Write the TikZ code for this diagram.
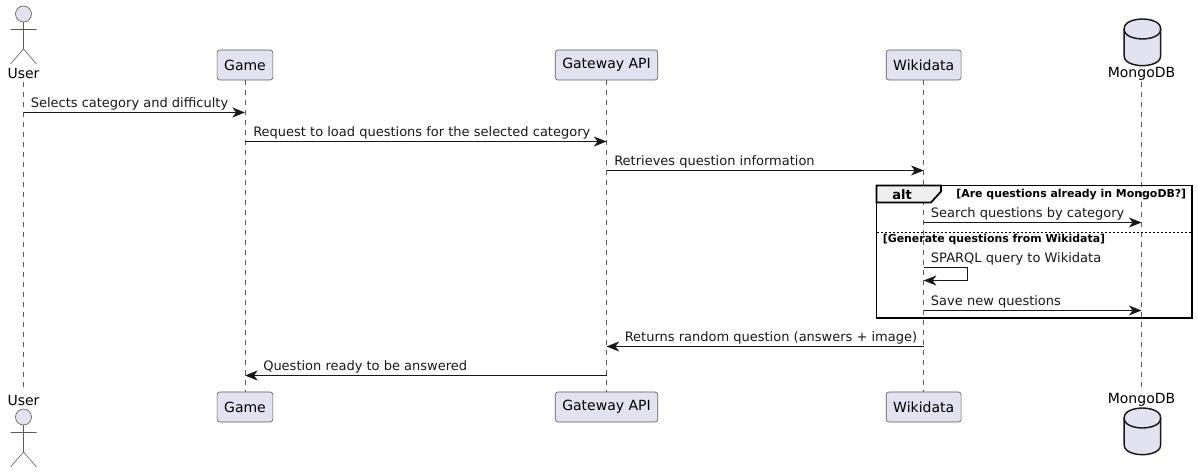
\documentclass[tikz,border=0pt]{standalone}
\usepackage{fontspec}
\setmainfont{DejaVu Sans}
\usetikzlibrary{arrows.meta}
\usetikzlibrary{calc}

\definecolor{partfill}{HTML}{E2E2F0}
\definecolor{partline}{HTML}{181818}
\definecolor{thinline}{HTML}{5A5A5A}
\definecolor{tabfill}{HTML}{EEEEEE}

\tikzset{
  part/.style={draw=thinline, line width=0.45pt, fill=partfill, rounded corners=2pt,
    minimum height=22.5pt, inner xsep=5.25pt, inner ysep=0pt, font=\fontsize{10.5}{12}\selectfont},
  actorname/.style={inner sep=0pt, minimum height=12pt, font=\fontsize{10.5}{12}\selectfont},
  lifeline/.style={draw=thinline, line width=0.4pt, dash pattern=on 3.75pt off 3.75pt},
  msg/.style={draw=partline, line width=0.75pt, -{Stealth[length=9.5pt,width=7.5pt,inset=2.8pt]}},
  msgtext/.style={anchor=base west, inner sep=0pt, font=\fontsize{9.75}{12}\selectfont, text=partline},
  guard/.style={inner sep=0pt, font=\fontsize{8.2}{10}\bfseries\selectfont},
  stickman/.pic={
    \draw[draw=thinline, line width=0.45pt, fill=partfill] (0,0) circle[radius=8];
    \draw[draw=thinline, line width=0.45pt] (0,8) -- (0,35) (-13,15.5) -- (13,15.5)
      (-13,50) -- (0,35) -- (13,50);
  },
  dbase/.pic={
    \draw[draw=partline, line width=1.1pt, fill=partfill] (-18.3,10) .. controls (-18.3,0) and (0,0) .. (0,0)
      .. controls (0,0) and (18.3,0) .. (18.3,10) -- (18.3,36.7)
      .. controls (18.3,46.7) and (0,46.7) .. (0,46.7)
      .. controls (0,46.7) and (-18.3,46.7) .. (-18.3,36.7) -- cycle;
    \draw[draw=partline, line width=1.1pt] (-18.3,10) .. controls (-18.3,20) and (0,20) .. (0,20)
      .. controls (0,20) and (18.3,20) .. (18.3,10);
  }
}

\begin{document}
\begin{tikzpicture}[x=0.75pt, y=-0.75pt]
  \useasboundingbox (0,0) rectangle (1198,473);

  % participants, top and bottom row
  \foreach \id/\txt/\xpos in {game/Game/245, gateway/Gateway API/606.5, wikidata/Wikidata/923.7} {
    \node[part] (\id) at (\xpos,65) {\txt};
    \node[part] (\id_b) at (\xpos,407) {\txt};
  }
  \pic at (23.5,14) {stickman};
  \pic at (23.5,417) {stickman};
  \node[actorname] (user) at (23.5,73.5) {User};
  \node[actorname] (user_b) at (23.5,400) {User};
  \pic at (1142.4,19) {dbase};
  \pic at (1142.4,408) {dbase};
  \node[actorname] (mongo) at (1141.5,73.5) {MongoDB};
  \node[actorname] (mongo_b) at (1141.5,400) {MongoDB};

  \foreach \id in {user, game, gateway, wikidata, mongo} {
    \draw[lifeline] (\id) -- (\id_b);
  }

  % alt frame
  \coordinate (alt_nw) at (876.5,185.5);
  \coordinate (alt_se) at (1192,318);
  \coordinate (tab_c) at (941,191.5);
  \coordinate (tab_b) at (931,202.5);
  \draw[black, line width=1.3pt, fill=tabfill] (alt_nw) -- (alt_nw -| tab_c) -- (tab_c) -- (tab_b) -- (alt_nw |- tab_b) -- cycle;
  \draw[black, line width=1.3pt] (alt_nw) rectangle (alt_se);
  \draw[black, line width=0.6pt, dash pattern=on 1.5pt off 1.5pt] (alt_nw |- 0,232.5) -- (alt_se |- 0,232.5);
  \node[guard, font=\fontsize{9.75}{12}\bfseries\selectfont] (alt) at (902,194.5) {alt};
  \node[guard, anchor=east] (guard1) at (1186.5,194.5) {[Are questions already in MongoDB?]};
  \node[guard, anchor=west] (guard2) at (882.5,239.5) {[Generate questions from Wikidata]};

  % messages
  \draw[msg] (user |- 0,112.5) -- (game |- 0,112.5);
  \node[msgtext] (m1) at ($(user |- 0,107.5)+(7,0)$) {Selects category and difficulty};
  \draw[msg] (game |- 0,141.5) -- (gateway |- 0,141.5);
  \node[msgtext] (m2) at ($(game |- 0,136.5)+(8,0)$) {Request to load questions for the selected category};
  \draw[msg] (gateway |- 0,170.5) -- (wikidata |- 0,170.5);
  \node[msgtext] (m3) at ($(gateway |- 0,166)+(7.5,0)$) {Retrieves question information};
  \draw[msg] (wikidata |- 0,222.5) -- (mongo |- 0,222.5);
  \node[msgtext] (m4) at ($(wikidata |- 0,218)+(7,0)$) {Search questions by category};
  \draw[msg] (wikidata |- 0,267.5) -- (967,267.5) -- (967,280.5) -- (wikidata |- 0,280.5);
  \node[msgtext] (m5) at ($(wikidata |- 0,263)+(7,0)$) {SPARQL query to Wikidata};
  \draw[msg] (wikidata |- 0,310.5) -- (mongo |- 0,310.5);
  \node[msgtext] (m6) at ($(wikidata |- 0,305.5)+(7,0)$) {Save new questions};
  \draw[msg] (wikidata |- 0,346.5) -- (gateway |- 0,346.5);
  \node[msgtext] (m7) at ($(gateway |- 0,341.5)+(18,0)$) {Returns random question (answers + image)};
  \draw[msg] (gateway |- 0,375.5) -- (game |- 0,375.5);
  \node[msgtext] (m8) at ($(game |- 0,370.5)+(18,0)$) {Question ready to be answered};
\end{tikzpicture}
\end{document}
